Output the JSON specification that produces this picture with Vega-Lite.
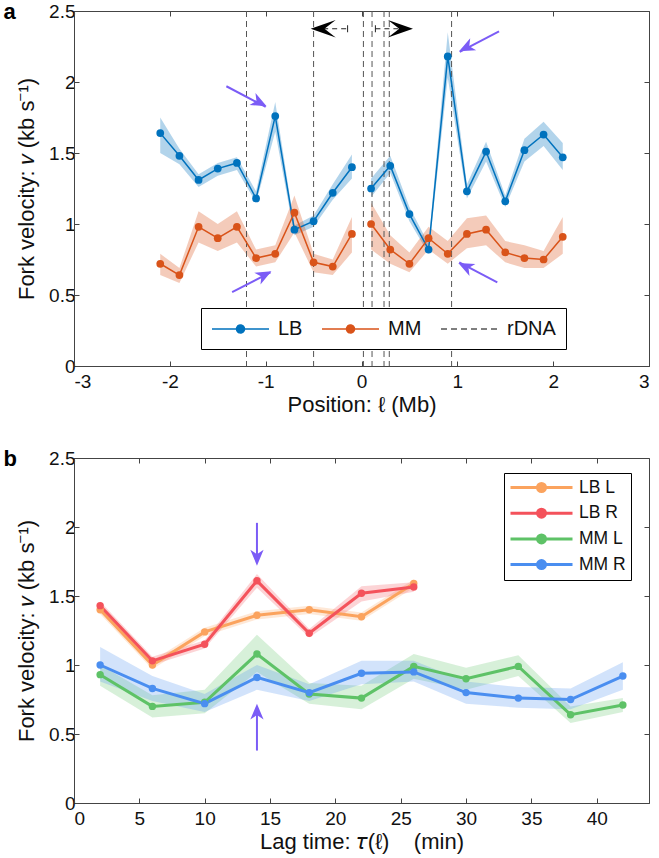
{
  "$schema": "https://vega.github.io/schema/vega-lite/v6.json",
  "padding": {"left": 3, "top": 0, "right": 2, "bottom": 1},
  "bounds": "flush",
  "spacing": 92,
  "resolve": {"scale": {"color": "independent"}, "legend": {"color": "independent"}},
  "config": {
    "font": "Liberation Sans",
    "view": {"stroke": "#444", "strokeWidth": 1},
    "axis": {"labelFontSize": 19, "titleFontSize": 22, "titleFontWeight": "normal", "labelColor": "#111", "titleColor": "#111", "domainColor": "#444", "tickColor": "#444", "tickSize": -5, "grid": false, "labelFont": "Liberation Sans", "titleFont": "Liberation Sans"},
    "axisX": {"labelPadding": 11, "titlePadding": 3},
    "axisY": {"labelPadding": 4, "titlePadding": 10},
    "legend": {"labelFont": "Liberation Sans", "labelFontSize": 20, "labelColor": "#111"},
    "title": {"font": "Liberation Sans"}
  },
  "datasets": {
    "a": [
      {"pos": -2.1, "v": 1.64, "lo": 1.50, "hi": 1.75, "series": "LB", "seg": "L"},
      {"pos": -1.9, "v": 1.48, "lo": 1.42, "hi": 1.53, "series": "LB", "seg": "L"},
      {"pos": -1.7, "v": 1.31, "lo": 1.26, "hi": 1.35, "series": "LB", "seg": "L"},
      {"pos": -1.5, "v": 1.39, "lo": 1.34, "hi": 1.43, "series": "LB", "seg": "L"},
      {"pos": -1.3, "v": 1.43, "lo": 1.38, "hi": 1.47, "series": "LB", "seg": "L"},
      {"pos": -1.1, "v": 1.18, "lo": 1.15, "hi": 1.23, "series": "LB", "seg": "L"},
      {"pos": -0.9, "v": 1.76, "lo": 1.65, "hi": 1.86, "series": "LB", "seg": "L"},
      {"pos": -0.7, "v": 0.96, "lo": 0.92, "hi": 0.99, "series": "LB", "seg": "L"},
      {"pos": -0.5, "v": 1.02, "lo": 0.98, "hi": 1.06, "series": "LB", "seg": "L"},
      {"pos": -0.3, "v": 1.22, "lo": 1.17, "hi": 1.28, "series": "LB", "seg": "L"},
      {"pos": -0.1, "v": 1.40, "lo": 1.32, "hi": 1.49, "series": "LB", "seg": "L"},
      {"pos": 0.1, "v": 1.25, "lo": 1.19, "hi": 1.32, "series": "LB", "seg": "R"},
      {"pos": 0.3, "v": 1.41, "lo": 1.36, "hi": 1.48, "series": "LB", "seg": "R"},
      {"pos": 0.5, "v": 1.07, "lo": 1.02, "hi": 1.12, "series": "LB", "seg": "R"},
      {"pos": 0.7, "v": 0.82, "lo": 0.79, "hi": 0.86, "series": "LB", "seg": "R"},
      {"pos": 0.9, "v": 2.18, "lo": 2.03, "hi": 2.35, "series": "LB", "seg": "R"},
      {"pos": 1.1, "v": 1.23, "lo": 1.18, "hi": 1.28, "series": "LB", "seg": "R"},
      {"pos": 1.3, "v": 1.51, "lo": 1.44, "hi": 1.58, "series": "LB", "seg": "R"},
      {"pos": 1.5, "v": 1.16, "lo": 1.12, "hi": 1.20, "series": "LB", "seg": "R"},
      {"pos": 1.7, "v": 1.52, "lo": 1.44, "hi": 1.60, "series": "LB", "seg": "R"},
      {"pos": 1.9, "v": 1.63, "lo": 1.55, "hi": 1.72, "series": "LB", "seg": "R"},
      {"pos": 2.1, "v": 1.47, "lo": 1.38, "hi": 1.57, "series": "LB", "seg": "R"},
      {"pos": -2.1, "v": 0.72, "lo": 0.64, "hi": 0.79, "series": "MM", "seg": "L"},
      {"pos": -1.9, "v": 0.64, "lo": 0.585, "hi": 0.69, "series": "MM", "seg": "L"},
      {"pos": -1.7, "v": 0.98, "lo": 0.87, "hi": 1.09, "series": "MM", "seg": "L"},
      {"pos": -1.5, "v": 0.90, "lo": 0.81, "hi": 1.00, "series": "MM", "seg": "L"},
      {"pos": -1.3, "v": 0.98, "lo": 0.87, "hi": 1.09, "series": "MM", "seg": "L"},
      {"pos": -1.1, "v": 0.76, "lo": 0.70, "hi": 0.82, "series": "MM", "seg": "L"},
      {"pos": -0.9, "v": 0.79, "lo": 0.73, "hi": 0.85, "series": "MM", "seg": "L"},
      {"pos": -0.7, "v": 1.08, "lo": 0.94, "hi": 1.20, "series": "MM", "seg": "L"},
      {"pos": -0.5, "v": 0.73, "lo": 0.66, "hi": 0.79, "series": "MM", "seg": "L"},
      {"pos": -0.3, "v": 0.70, "lo": 0.64, "hi": 0.75, "series": "MM", "seg": "L"},
      {"pos": -0.1, "v": 0.93, "lo": 0.80, "hi": 1.05, "series": "MM", "seg": "L"},
      {"pos": 0.1, "v": 1.00, "lo": 0.82, "hi": 1.15, "series": "MM", "seg": "R"},
      {"pos": 0.3, "v": 0.82, "lo": 0.72, "hi": 0.92, "series": "MM", "seg": "R"},
      {"pos": 0.5, "v": 0.72, "lo": 0.66, "hi": 0.80, "series": "MM", "seg": "R"},
      {"pos": 0.7, "v": 0.90, "lo": 0.82, "hi": 0.98, "series": "MM", "seg": "R"},
      {"pos": 0.9, "v": 0.79, "lo": 0.72, "hi": 0.88, "series": "MM", "seg": "R"},
      {"pos": 1.1, "v": 0.93, "lo": 0.83, "hi": 1.04, "series": "MM", "seg": "R"},
      {"pos": 1.3, "v": 0.96, "lo": 0.85, "hi": 1.06, "series": "MM", "seg": "R"},
      {"pos": 1.5, "v": 0.80, "lo": 0.73, "hi": 0.88, "series": "MM", "seg": "R"},
      {"pos": 1.7, "v": 0.76, "lo": 0.69, "hi": 0.85, "series": "MM", "seg": "R"},
      {"pos": 1.9, "v": 0.75, "lo": 0.69, "hi": 0.81, "series": "MM", "seg": "R"},
      {"pos": 2.1, "v": 0.91, "lo": 0.79, "hi": 1.05, "series": "MM", "seg": "R"}
    ],
    "rdna": [
      {"pos": -1.2, "series": "rDNA"},
      {"pos": -0.5, "series": "rDNA"},
      {"pos": 0.02, "series": "rDNA"},
      {"pos": 0.11, "series": "rDNA"},
      {"pos": 0.235, "series": "rDNA"},
      {"pos": 0.29, "series": "rDNA"},
      {"pos": 0.94, "series": "rDNA"}
    ],
    "b": [
      {"t": 2, "v": 1.40, "lo": 1.37, "hi": 1.43, "grp": "LB L"},
      {"t": 6, "v": 1.00, "lo": 0.97, "hi": 1.03, "grp": "LB L"},
      {"t": 10, "v": 1.24, "lo": 1.21, "hi": 1.27, "grp": "LB L"},
      {"t": 14, "v": 1.36, "lo": 1.33, "hi": 1.39, "grp": "LB L"},
      {"t": 18, "v": 1.40, "lo": 1.37, "hi": 1.43, "grp": "LB L"},
      {"t": 22, "v": 1.35, "lo": 1.32, "hi": 1.38, "grp": "LB L"},
      {"t": 26, "v": 1.59, "lo": 1.56, "hi": 1.62, "grp": "LB L"},
      {"t": 2, "v": 1.43, "lo": 1.40, "hi": 1.46, "grp": "LB R"},
      {"t": 6, "v": 1.03, "lo": 1.00, "hi": 1.06, "grp": "LB R"},
      {"t": 10, "v": 1.15, "lo": 1.12, "hi": 1.18, "grp": "LB R"},
      {"t": 14, "v": 1.61, "lo": 1.56, "hi": 1.66, "grp": "LB R"},
      {"t": 18, "v": 1.23, "lo": 1.20, "hi": 1.26, "grp": "LB R"},
      {"t": 22, "v": 1.52, "lo": 1.46, "hi": 1.57, "grp": "LB R"},
      {"t": 26, "v": 1.565, "lo": 1.53, "hi": 1.60, "grp": "LB R"},
      {"t": 2, "v": 0.93, "lo": 0.85, "hi": 1.00, "grp": "MM L"},
      {"t": 6, "v": 0.70, "lo": 0.62, "hi": 0.78, "grp": "MM L"},
      {"t": 10, "v": 0.73, "lo": 0.65, "hi": 0.82, "grp": "MM L"},
      {"t": 14, "v": 1.08, "lo": 0.95, "hi": 1.22, "grp": "MM L"},
      {"t": 18, "v": 0.79, "lo": 0.72, "hi": 0.87, "grp": "MM L"},
      {"t": 22, "v": 0.76, "lo": 0.68, "hi": 0.85, "grp": "MM L"},
      {"t": 26, "v": 0.99, "lo": 0.90, "hi": 1.08, "grp": "MM L"},
      {"t": 30, "v": 0.90, "lo": 0.82, "hi": 0.98, "grp": "MM L"},
      {"t": 34, "v": 0.99, "lo": 0.92, "hi": 1.07, "grp": "MM L"},
      {"t": 38, "v": 0.64, "lo": 0.58, "hi": 0.70, "grp": "MM L"},
      {"t": 42, "v": 0.71, "lo": 0.66, "hi": 0.76, "grp": "MM L"},
      {"t": 2, "v": 1.00, "lo": 0.88, "hi": 1.13, "grp": "MM R"},
      {"t": 6, "v": 0.83, "lo": 0.74, "hi": 0.92, "grp": "MM R"},
      {"t": 10, "v": 0.72, "lo": 0.66, "hi": 0.79, "grp": "MM R"},
      {"t": 14, "v": 0.91, "lo": 0.82, "hi": 1.00, "grp": "MM R"},
      {"t": 18, "v": 0.80, "lo": 0.74, "hi": 0.86, "grp": "MM R"},
      {"t": 22, "v": 0.94, "lo": 0.86, "hi": 1.03, "grp": "MM R"},
      {"t": 26, "v": 0.95, "lo": 0.88, "hi": 1.03, "grp": "MM R"},
      {"t": 30, "v": 0.80, "lo": 0.72, "hi": 0.88, "grp": "MM R"},
      {"t": 34, "v": 0.76, "lo": 0.69, "hi": 0.84, "grp": "MM R"},
      {"t": 38, "v": 0.75, "lo": 0.68, "hi": 0.83, "grp": "MM R"},
      {"t": 42, "v": 0.92, "lo": 0.82, "hi": 1.02, "grp": "MM R"}
    ]
  },
  "vconcat": [
    {
      "width": 575,
      "height": 355,
      "title": {"text": "a", "anchor": "start", "frame": "bounds", "fontSize": 22, "fontWeight": "bold", "offset": -22, "dx": -12},
      "resolve": {"axis": {"x": "independent", "y": "independent"}},
      "layer": [
        {
          "data": {"name": "a"},
          "mark": {"type": "area", "opacity": 0.3},
          "encoding": {
            "x": {"field": "pos", "type": "quantitative", "scale": {"domain": [-3, 3], "nice": false}, "axis": {"orient": "bottom", "values": [-3, -2, -1, 0, 1, 2, 3], "title": "Position: ℓ (Mb)", "labelExpr": "toString(datum.value)"}},
            "y": {"field": "lo", "type": "quantitative", "stack": null, "scale": {"domain": [0, 2.5], "nice": false}, "axis": {"orient": "left", "values": [0, 0.5, 1, 1.5, 2, 2.5], "title": "Fork velocity: 𝑣 (kb s⁻¹)", "labelExpr": "toString(datum.value)"}},
            "y2": {"field": "hi"},
            "color": {"field": "series", "type": "nominal", "scale": {"domain": ["LB", "MM", "rDNA"], "range": ["#0072BD", "#D95319", "#555555"]}},
            "detail": {"field": "seg"}
          }
        },
        {
          "data": {"name": "rdna"},
          "mark": {"type": "rule", "strokeDash": [6, 4], "strokeWidth": 1},
          "encoding": {
            "x": {"field": "pos", "type": "quantitative", "axis": null},
            "color": {"field": "series", "type": "nominal"}
          }
        },
        {
          "data": {"name": "a"},
          "mark": {"type": "line", "strokeWidth": 1.5},
          "encoding": {
            "x": {"field": "pos", "type": "quantitative", "axis": {"orient": "top", "values": [-3, -2, -1, 0, 1, 2, 3], "labels": false, "title": null, "domain": false}},
            "y": {"field": "v", "type": "quantitative", "axis": {"orient": "right", "values": [0, 0.5, 1, 1.5, 2, 2.5], "labels": false, "title": null, "domain": false}},
            "color": {"field": "series", "type": "nominal", "legend": {"orient": "none", "legendX": 127, "legendY": 297, "direction": "horizontal", "title": null, "strokeColor": "#000", "fillColor": "#fff", "padding": 10, "symbolSize": 400, "symbolStrokeWidth": 1.5, "columnPadding": 16, "labelOffset": 45,
              "encode": {"symbols": {"update": {
                "shape": {"signal": "datum.value === 'rDNA' ? 'M-1,0H4.7' : 'M-1,0H4.7M2.25,0A0.4,0.4,0,1,1,1.45,0A0.4,0.4,0,1,1,2.25,0Z'"},
                "fill": {"signal": "datum.value === 'LB' ? '#0072BD' : datum.value === 'MM' ? '#D95319' : 'transparent'"},
                "stroke": {"signal": "datum.value === 'LB' ? '#0072BD' : datum.value === 'MM' ? '#D95319' : '#555555'"},
                "strokeDash": {"signal": "datum.value === 'rDNA' ? [6, 4] : [1, 0]"},
                "opacity": {"value": 1}
              }}}}},
            "detail": {"field": "seg"}
          }
        },
        {
          "data": {"name": "a"},
          "mark": {"type": "point", "filled": true, "size": 60, "opacity": 1},
          "encoding": {
            "x": {"field": "pos", "type": "quantitative", "axis": null},
            "y": {"field": "v", "type": "quantitative", "axis": null},
            "color": {"field": "series", "type": "nominal"}
          }
        },
        {
          "data": {"values": [{"x": -0.40, "x2": -0.145, "y": 2.375}, {"x": 0.145, "x2": 0.40, "y": 2.375}]},
          "mark": {"type": "rule", "strokeDash": [5, 4], "strokeWidth": 1, "color": "#222"},
          "encoding": {
            "x": {"field": "x", "type": "quantitative", "axis": null},
            "x2": {"field": "x2"},
            "y": {"field": "y", "type": "quantitative", "axis": null}
          }
        },
        {
          "data": {"values": [{"x": -0.145, "y": 2.375}, {"x": 0.145, "y": 2.375}]},
          "mark": {"type": "point", "shape": "M0,-1L0,1", "size": 49, "color": "#222", "strokeWidth": 1, "opacity": 1},
          "encoding": {
            "x": {"field": "x", "type": "quantitative", "axis": null},
            "y": {"field": "y", "type": "quantitative", "axis": null}
          }
        },
        {
          "data": {"values": [{"x": -0.53, "y": 2.375}]},
          "mark": {"type": "point", "shape": "M0,0L1,-0.35L0.55,0L1,0.35Z", "filled": true, "size": 2500, "color": "#000", "opacity": 1},
          "encoding": {
            "x": {"field": "x", "type": "quantitative", "axis": null},
            "y": {"field": "y", "type": "quantitative", "axis": null}
          }
        },
        {
          "data": {"values": [{"x": 0.537, "y": 2.375}]},
          "mark": {"type": "point", "shape": "M0,0L-1,-0.35L-0.55,0L-1,0.35Z", "filled": true, "size": 2500, "color": "#000", "opacity": 1},
          "encoding": {
            "x": {"field": "x", "type": "quantitative", "axis": null},
            "y": {"field": "y", "type": "quantitative", "axis": null}
          }
        },
        {
          "data": {"values": [
            {"x": -1.41, "y": 1.97, "x2": -1.0, "y2": 1.825},
            {"x": -1.35, "y": 0.52, "x2": -0.95, "y2": 0.66},
            {"x": 1.435, "y": 2.357, "x2": 1.025, "y2": 2.212},
            {"x": 1.417, "y": 0.589, "x2": 1.02, "y2": 0.73}
          ]},
          "mark": {"type": "rule", "strokeWidth": 2, "color": "#7B5CF6"},
          "encoding": {
            "x": {"field": "x", "type": "quantitative", "axis": null},
            "y": {"field": "y", "type": "quantitative", "axis": null},
            "x2": {"field": "x2"},
            "y2": {"field": "y2"}
          }
        },
        {
          "data": {"values": [{"x": -0.99, "y": 1.83}]},
          "mark": {"type": "point", "shape": "M0,0L-1,-0.42L-0.72,0L-1,0.42Z", "filled": true, "size": 1000, "color": "#7B5CF6", "opacity": 1, "angle": 26.6},
          "encoding": {"x": {"field": "x", "type": "quantitative", "axis": null}, "y": {"field": "y", "type": "quantitative", "axis": null}}
        },
        {
          "data": {"values": [{"x": -0.94, "y": 0.667}]},
          "mark": {"type": "point", "shape": "M0,0L-1,-0.42L-0.72,0L-1,0.42Z", "filled": true, "size": 1000, "color": "#7B5CF6", "opacity": 1, "angle": 332.3},
          "encoding": {"x": {"field": "x", "type": "quantitative", "axis": null}, "y": {"field": "y", "type": "quantitative", "axis": null}}
        },
        {
          "data": {"values": [{"x": 1.018, "y": 2.216}]},
          "mark": {"type": "point", "shape": "M0,0L-1,-0.42L-0.72,0L-1,0.42Z", "filled": true, "size": 1000, "color": "#7B5CF6", "opacity": 1, "angle": 153.4},
          "encoding": {"x": {"field": "x", "type": "quantitative", "axis": null}, "y": {"field": "y", "type": "quantitative", "axis": null}}
        },
        {
          "data": {"values": [{"x": 1.01, "y": 0.725}]},
          "mark": {"type": "point", "shape": "M0,0L-1,-0.42L-0.72,0L-1,0.42Z", "filled": true, "size": 1000, "color": "#7B5CF6", "opacity": 1, "angle": 206.3},
          "encoding": {"x": {"field": "x", "type": "quantitative", "axis": null}, "y": {"field": "y", "type": "quantitative", "axis": null}}
        }
      ]
    },
    {
      "width": 575,
      "height": 345,
      "title": {"text": "b", "anchor": "start", "frame": "bounds", "fontSize": 22, "fontWeight": "bold", "offset": -22, "dx": -12},
      "resolve": {"axis": {"x": "independent", "y": "independent"}},
      "layer": [
        {
          "data": {"name": "b"},
          "mark": {"type": "area", "opacity": 0.25},
          "encoding": {
            "x": {"field": "t", "type": "quantitative", "scale": {"domain": [0, 44], "nice": false}, "axis": {"orient": "bottom", "values": [0, 5, 10, 15, 20, 25, 30, 35, 40], "title": "Lag time: 𝜏(ℓ)\u00a0\u00a0\u00a0 (min)", "labelExpr": "toString(datum.value)"}},
            "y": {"field": "lo", "type": "quantitative", "stack": null, "scale": {"domain": [0, 2.5], "nice": false}, "axis": {"orient": "left", "values": [0, 0.5, 1, 1.5, 2, 2.5], "title": "Fork velocity: 𝑣 (kb s⁻¹)", "labelExpr": "toString(datum.value)"}},
            "y2": {"field": "hi"},
            "color": {"field": "grp", "type": "nominal", "scale": {"domain": ["LB L", "LB R", "MM L", "MM R"], "range": ["#FBA35E", "#F4525B", "#5EC267", "#4A8EF0"]}}
          }
        },
        {
          "data": {"name": "b"},
          "mark": {"type": "line", "strokeWidth": 3},
          "encoding": {
            "x": {"field": "t", "type": "quantitative", "axis": {"orient": "top", "values": [0, 5, 10, 15, 20, 25, 30, 35, 40], "labels": false, "title": null, "domain": false}},
            "y": {"field": "v", "type": "quantitative", "axis": {"orient": "right", "values": [0, 0.5, 1, 1.5, 2, 2.5], "labels": false, "title": null, "domain": false}},
            "color": {"field": "grp", "type": "nominal", "legend": {"orient": "none", "legendX": 430, "legendY": 15, "direction": "vertical", "title": null, "strokeColor": "#000", "fillColor": "#fff", "padding": 5, "symbolSize": 256, "symbolStrokeWidth": 3, "rowPadding": 4.7, "labelOffset": 51, "labelFontSize": 17.5,
              "encode": {"symbols": {"update": {
                "shape": {"value": "M-1,0H6.75M3.375,0A0.5,0.5,0,1,1,2.375,0A0.5,0.5,0,1,1,3.375,0Z"},
                "fill": {"signal": "datum.value === 'LB L' ? '#FBA35E' : datum.value === 'LB R' ? '#F4525B' : datum.value === 'MM L' ? '#5EC267' : '#4A8EF0'"},
                "stroke": {"signal": "datum.value === 'LB L' ? '#FBA35E' : datum.value === 'LB R' ? '#F4525B' : datum.value === 'MM L' ? '#5EC267' : '#4A8EF0'"},
                "opacity": {"value": 1}
              }}}}}
          }
        },
        {
          "data": {"name": "b"},
          "mark": {"type": "point", "filled": true, "size": 55, "opacity": 1},
          "encoding": {
            "x": {"field": "t", "type": "quantitative", "axis": null},
            "y": {"field": "v", "type": "quantitative", "axis": null},
            "color": {"field": "grp", "type": "nominal"}
          }
        },
        {
          "data": {"values": [{"x": 14, "y": 2.03, "y2": 1.74}, {"x": 14, "y": 0.38, "y2": 0.70}]},
          "mark": {"type": "rule", "strokeWidth": 2, "color": "#7B5CF6"},
          "encoding": {
            "x": {"field": "x", "type": "quantitative", "axis": null},
            "y": {"field": "y", "type": "quantitative", "axis": null},
            "y2": {"field": "y2"}
          }
        },
        {
          "data": {"values": [{"x": 14, "y": 1.72}]},
          "mark": {"type": "point", "shape": "M0,0L-1,-0.42L-0.72,0L-1,0.42Z", "filled": true, "size": 1000, "color": "#7B5CF6", "opacity": 1, "angle": 90},
          "encoding": {"x": {"field": "x", "type": "quantitative", "axis": null}, "y": {"field": "y", "type": "quantitative", "axis": null}}
        },
        {
          "data": {"values": [{"x": 14, "y": 0.72}]},
          "mark": {"type": "point", "shape": "M0,0L-1,-0.42L-0.72,0L-1,0.42Z", "filled": true, "size": 1000, "color": "#7B5CF6", "opacity": 1, "angle": 270},
          "encoding": {"x": {"field": "x", "type": "quantitative", "axis": null}, "y": {"field": "y", "type": "quantitative", "axis": null}}
        }
      ]
    }
  ]
}
